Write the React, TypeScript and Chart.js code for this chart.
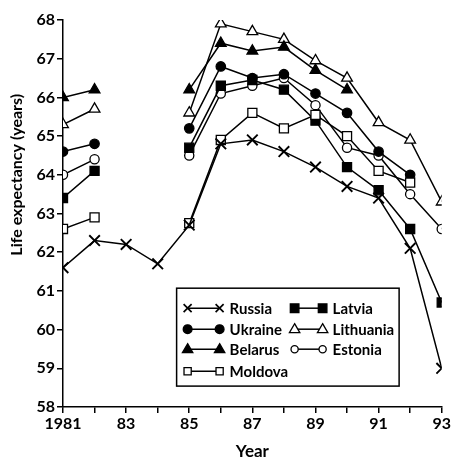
import React, { useEffect, useRef } from 'react';
import { Chart, registerables } from 'chart.js';

Chart.register(...registerables);

const years = [1981, 1982, 1983, 1984, 1985, 1986, 1987, 1988, 1989, 1990, 1991, 1992, 1993];
const russia = [61.6, 62.3, 62.2, 61.7, 62.7, 64.8, 64.9, 64.6, 64.2, 63.7, 63.4, 62.1, 59.0];
const ukraine = [64.6, 64.8, null, null, 65.2, 66.8, 66.5, 66.6, 66.1, 65.6, 64.6, 64.0, null];
const belarus = [66.0, 66.2, null, null, 66.2, 67.4, 67.2, 67.3, 66.7, 66.2, null, null, null];
const moldova = [62.6, 62.9, null, null, 62.75, 64.9, 65.6, 65.2, 65.55, 65.0, 64.1, 63.8, null];
const latvia = [63.4, 64.1, null, null, 64.7, 66.3, 66.45, 66.2, 65.4, 64.2, 63.6, 62.6, 60.7];
const lithuania = [65.3, 65.7, null, null, 65.6, 67.9, 67.7, 67.5, 66.95, 66.5, 65.35, 64.9, 63.3];
const estonia = [64.0, 64.4, null, null, 64.5, 66.1, 66.3, 66.5, 65.8, 64.7, 64.5, 63.5, 62.6];

const yTicks = [58, 59, 60, 61, 62, 63, 64, 65, 66, 67, 68];
const xLabels: Record<number, string> = { 1981: '1981', 1983: '83', 1985: '85', 1987: '87', 1989: '89', 1991: '91', 1993: '93' };

const FONT = "Lato, 'Open Sans', sans-serif";

type Marker = 'cross' | 'rect' | 'circle' | 'triangle';

const legendItems: { label: string; marker: Marker; fill: boolean; col: number; row: number }[] = [
  { label: 'Russia', marker: 'cross', fill: false, col: 0, row: 0 },
  { label: 'Ukraine', marker: 'circle', fill: true, col: 0, row: 1 },
  { label: 'Belarus', marker: 'triangle', fill: true, col: 0, row: 2 },
  { label: 'Moldova', marker: 'rect', fill: false, col: 0, row: 3 },
  { label: 'Latvia', marker: 'rect', fill: true, col: 1, row: 0 },
  { label: 'Lithuania', marker: 'triangle', fill: false, col: 1, row: 1 },
  { label: 'Estonia', marker: 'circle', fill: false, col: 1, row: 2 },
];

function drawMarker(ctx: CanvasRenderingContext2D, m: Marker, x: number, y: number, fill: boolean) {
  ctx.save();
  ctx.strokeStyle = '#000';
  ctx.fillStyle = fill ? '#000' : '#fff';
  ctx.lineWidth = 1.3;
  ctx.beginPath();
  if (m === 'cross') {
    ctx.lineWidth = 1.7;
    ctx.moveTo(x - 4, y - 4); ctx.lineTo(x + 4, y + 4);
    ctx.moveTo(x + 4, y - 4); ctx.lineTo(x - 4, y + 4);
    ctx.stroke();
  } else if (m === 'rect') {
    const s = fill ? 4.3 : 3.6;
    ctx.rect(x - s, y - s, 2 * s, 2 * s);
    ctx.fill(); ctx.stroke();
  } else if (m === 'circle') {
    ctx.arc(x, y, fill ? 4.4 : 3.6, 0, Math.PI * 2);
    ctx.fill(); ctx.stroke();
  } else {
    ctx.moveTo(x, y - 5.5); ctx.lineTo(x + 5.2, y + 3.5); ctx.lineTo(x - 5.2, y + 3.5); ctx.closePath();
    ctx.fill(); ctx.stroke();
  }
  ctx.restore();
}

const legendPlugin = {
  id: 'boxLegend',
  afterDatasetsDraw(chart: any) {
    const { ctx, scales } = chart;
    const x = scales.x, y = scales.y;
    const left = x.getPixelForValue(1984.6);
    const right = x.getPixelForValue(1991.65);
    const top = y.getPixelForValue(61.07);
    const bottom = y.getPixelForValue(58.54);
    ctx.save();
    ctx.fillStyle = '#fff';
    ctx.fillRect(left, top, right - left, bottom - top);
    ctx.lineWidth = 1.5;
    ctx.strokeStyle = '#000';
    ctx.strokeRect(left, top, right - left, bottom - top);
    const colM1 = [11, 118];
    const colM2 = [43, 146];
    const colT = [53, 156];
    const rowY = [20, 41, 61, 83];
    ctx.font = `bold 15px ${FONT}`;
    ctx.textBaseline = 'middle';
    ctx.textAlign = 'left';
    for (const it of legendItems) {
      const yy = top + rowY[it.row];
      const x1 = left + colM1[it.col];
      const x2 = left + colM2[it.col];
      ctx.beginPath();
      ctx.lineWidth = 1.5;
      ctx.strokeStyle = '#000';
      ctx.moveTo(x1, yy); ctx.lineTo(x2, yy); ctx.stroke();
      drawMarker(ctx, it.marker, x1, yy, it.fill);
      drawMarker(ctx, it.marker, x2, yy, it.fill);
      ctx.fillStyle = '#000';
      ctx.fillText(it.label, left + colT[it.col], yy + 1);
    }
    ctx.restore();
  },
  afterDraw(chart: any) {
    const { ctx, scales } = chart;
    const cy = scales.y.getPixelForValue(64);
    ctx.save();
    ctx.translate(17, cy);
    ctx.rotate(-Math.PI / 2);
    ctx.font = `bold 16px 'Liberation Sans Narrow', ${FONT}`;
    ctx.fillStyle = '#000';
    ctx.textAlign = 'center';
    ctx.textBaseline = 'middle';
    ctx.fillText('Life expectancy (years)', 0, 0);
    ctx.restore();
  },
};

function ds(label: string, data: (number | null)[], pointStyle: string, fill: boolean, radius: number, bw = 1.3) {
  return {
    label,
    data: years.map((yr, i) => ({ x: yr, y: data[i] })),
    borderColor: '#000',
    borderWidth: 1.5,
    pointStyle,
    pointRadius: radius,
    pointBackgroundColor: fill ? '#000' : '#fff',
    pointBorderColor: '#000',
    pointBorderWidth: bw,
    spanGaps: false,
    tension: 0,
  };
}

export default function App() {
  const ref = useRef<HTMLCanvasElement | null>(null);
  useEffect(() => {
    document.body.style.margin = '0';
    const canvas = ref.current!;
    const tickFont = { family: FONT, size: 16, weight: 'bold' as const };
    const chart = new Chart(canvas, {
      type: 'line',
      data: {
        datasets: [
          ds('Russia', russia, 'crossRot', false, 7.5, 1.9),
          ds('Moldova', moldova, 'rect', false, 6.4),
          ds('Ukraine', ukraine, 'circle', true, 4.7),
          ds('Belarus', belarus, 'triangle', true, 6.2),
          ds('Latvia', latvia, 'rect', true, 6.4),
          ds('Lithuania', lithuania, 'triangle', false, 6.2),
          ds('Estonia', estonia, 'circle', false, 4.6),
        ] as any,
      },
      options: {
        responsive: false,
        animation: false,
        layout: { padding: { top: 20, right: 9, left: 0, bottom: 0 } },
        plugins: { legend: { display: false }, tooltip: { enabled: false } },
        scales: {
          x: {
            type: 'linear',
            min: 1981,
            max: 1993,
            afterFit: (s: any) => { s.height = 59; },
            afterBuildTicks: (s: any) => { s.ticks = years.map((v) => ({ value: v })); },
            ticks: {
              autoSkip: false,
              maxRotation: 0,
              padding: 1,
              color: '#000',
              font: tickFont,
              callback: (v: any) => xLabels[v as number] ?? '',
            },
            grid: { drawOnChartArea: false, drawTicks: true, tickLength: 6, color: '#000', lineWidth: 1.5 },
            border: { display: true, color: '#000', width: 1.5 },
            title: { display: true, text: 'Year', color: '#000', font: { family: FONT, size: 17, weight: 'bold' }, padding: { top: 0, bottom: 4 } },
          },
          y: {
            type: 'linear',
            min: 58,
            max: 68,
            afterFit: (s: any) => { s.width = 63; },
            afterBuildTicks: (s: any) => { s.ticks = yTicks.map((v) => ({ value: v })); },
            ticks: { padding: 2, color: '#000', font: tickFont },
            grid: { drawOnChartArea: false, drawTicks: true, tickLength: 6, color: '#000', lineWidth: 1.5 },
            border: { display: true, color: '#000', width: 1.5 },
          },
        },
      },
      plugins: [legendPlugin],
    });
    return () => chart.destroy();
  }, []);
  return (
    <div style={{ position: 'relative', width: 452, height: 466 }}>
      <canvas ref={ref} width={452} height={466} style={{ width: 452, height: 466, display: 'block' }} />
    </div>
  );
}
